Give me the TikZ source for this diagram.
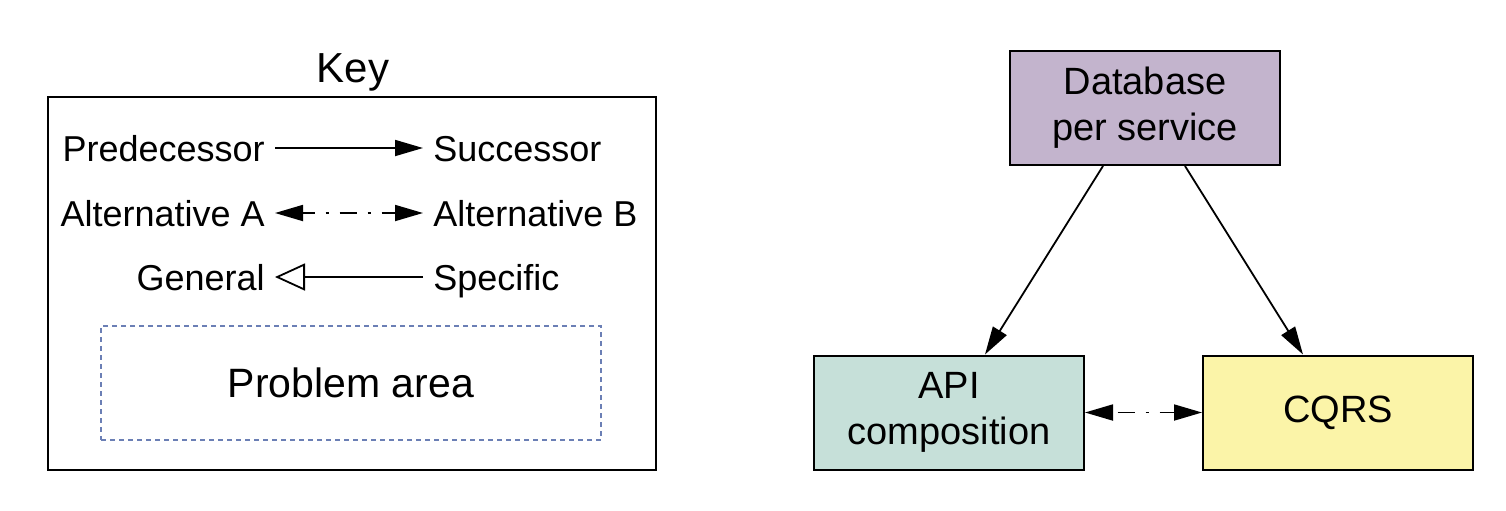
\documentclass[tikz,border=0pt]{standalone}
\usepackage{fontspec}
\setmainfont{Liberation Sans}
\usetikzlibrary{arrows.meta}
\definecolor{dbpurple}{HTML}{C3B4CD}
\definecolor{apigreen}{HTML}{C6E0D9}
\definecolor{cqrsyellow}{HTML}{FBF4A8}
\definecolor{areablue}{HTML}{6B7FB5}

\begin{document}
\begin{tikzpicture}[x=0.5pt, y=-0.5pt,
  every node/.style={font=\fontsize{18}{22}\selectfont},
  keylabel/.style={inner sep=5pt, text height=13pt, text depth=0pt},
  patternbox/.style={draw, line width=1pt, align=center, minimum width=135pt, minimum height=57pt, font=\fontsize{19}{23}\selectfont},
  succarrow/.style={-{Triangle[length=14pt, width=8pt]}, line width=0.9pt},
  altarrow/.style={{Triangle[length=14pt, width=8pt]}-{Triangle[length=14pt, width=8pt]}, line width=0.9pt, dash pattern=on 8.5pt off 5.5pt on 1.5pt off 5.5pt},
  genarrow/.style={-{Triangle[open, length=15pt, width=13.5pt]}, line width=0.9pt}]
\useasboundingbox (0,0) rectangle (1506,510);

% key
\node[font=\fontsize{21}{25}\selectfont] (keytitle) at (353,72) {Key};
\node[draw, line width=1pt, minimum width=304pt, minimum height=186.5pt] (keyframe) at (352,283.5) {};

\node[keylabel, anchor=east] (pred) at (275,148) {Predecessor};
\node[keylabel, anchor=west] (succ) at (423,148) {Successor};

\node[keylabel, anchor=east] (alta) at (275,213) {Alternative A};
\node[keylabel, anchor=west] (altb) at (423,213) {Alternative B};

\node[keylabel, anchor=east] (gen) at (275,277) {General};
\node[keylabel, anchor=west] (spec) at (423,277) {Specific};

\node[draw=areablue, line width=1.2pt, dash pattern=on 2.5pt off 2pt, minimum width=250pt, minimum height=57pt, font=\fontsize{20.5}{24}\selectfont] (area) at (351,383) {Problem area};

\draw[succarrow] (pred) -- (succ);
\draw[altarrow, dash phase=2.5pt] (alta) -- (altb);
\draw[genarrow] (spec) -- (gen);

% patterns
\node[patternbox, fill=dbpurple] (db) at (1145,108) {Database\\per service};
\node[patternbox, fill=apigreen] (api) at (949,412.5) {API\\composition};
\node[patternbox, fill=cqrsyellow] (cqrs) at (1338,412.5) {CQRS};

\draw[succarrow] ([xshift=-21pt]db.south) -- ([xshift=18pt]api.north);
\draw[succarrow] ([xshift=20pt]db.south) -- ([xshift=-17.5pt]cqrs.north);
\draw[altarrow, dash phase=18.5pt] (api) -- (cqrs);
\end{tikzpicture}
\end{document}
